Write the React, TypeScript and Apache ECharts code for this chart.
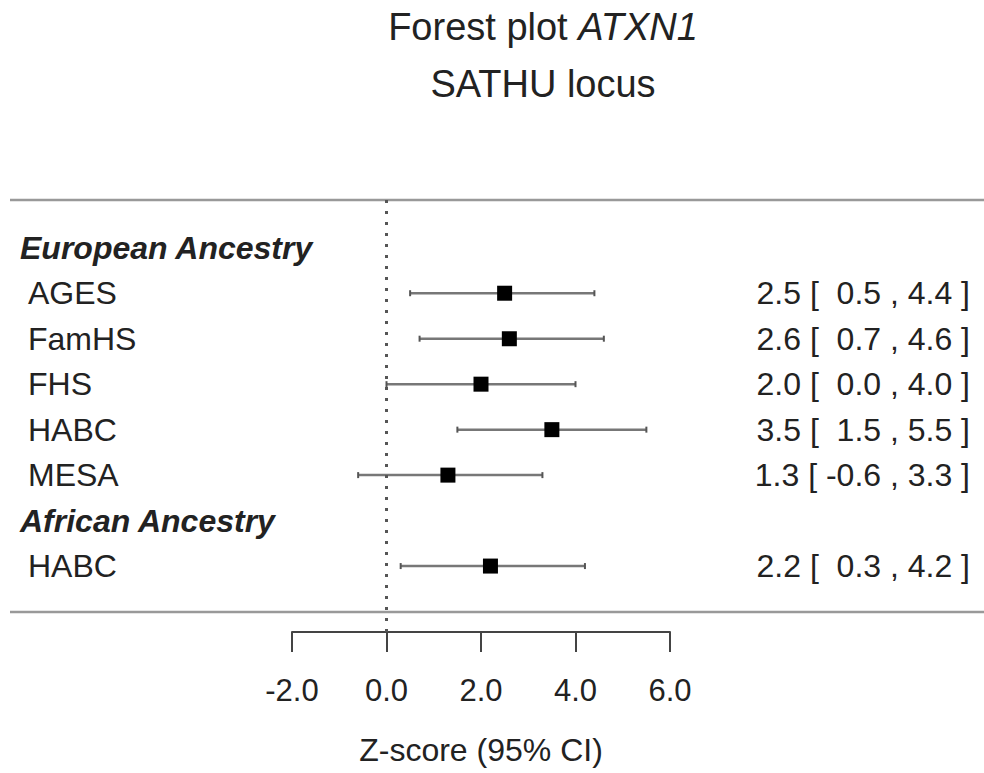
import React, { useEffect, useRef } from "react";
import * as echarts from "echarts";

const rowLabels = ["European Ancestry", "AGES", "FamHS", "FHS", "HABC", "MESA", "African Ancestry", "HABC"];
const isHeader = [true, false, false, false, false, false, true, false];
const estimates: (number | null)[] = [null, 2.5, 2.6, 2.0, 3.5, 1.3, null, 2.2];
const lowerCI: (number | null)[] = [null, 0.5, 0.7, 0.0, 1.5, -0.6, null, 0.3];
const upperCI: (number | null)[] = [null, 4.4, 4.6, 4.0, 5.5, 3.3, null, 4.2];
const xTicks = [-2, 0, 2, 4, 6];

const FONT = "'Liberation Sans', Arial, Helvetica, sans-serif";
const TXT = "#222";

function fmt(v: number) {
  return v.toFixed(1);
}

export default function App() {
  const ref = useRef<HTMLDivElement>(null);
  useEffect(() => {
    if (!ref.current) return;
    const chart = echarts.init(ref.current, undefined, { renderer: "svg" });

    const studyData: any[] = [];
    estimates.forEach((e, i) => {
      if (e !== null) studyData.push([i, e, lowerCI[i], upperCI[i]]);
    });
    const labelData = rowLabels.map((_, i) => [xTicks[0], i]);

    const option: any = {
      animation: false,
      backgroundColor: "#fff",
      title: {
        text: "Forest plot {i|ATXN1}",
        subtext: "SATHU locus",
        left: 538,
        top: 3,
        textAlign: "center",
        itemGap: 19,
        textStyle: {
          fontSize: 38,
          fontWeight: "normal",
          color: TXT,
          fontFamily: FONT,
          rich: {
            i: { fontSize: 38, fontStyle: "italic", color: TXT, fontFamily: FONT },
          },
        },
        subtextStyle: { fontSize: 38, color: TXT, fontFamily: FONT },
      },
      grid: { left: 292, right: 314, top: 200, bottom: 141, containLabel: false },
      xAxis: {
        type: "value",
        min: -2,
        max: 6,
        interval: 2,
        position: "bottom",
        splitLine: { show: false },
        axisLine: { show: true, onZero: false, lineStyle: { color: "#444", width: 2 } },
        axisTick: { show: true, length: 20, lineStyle: { color: "#444", width: 2 } },
        axisLabel: {
          fontSize: 31,
          color: TXT,
          fontFamily: FONT,
          margin: 43,
          formatter: (v: number) => fmt(v),
        },
        name: "Z-score (95% CI)",
        nameLocation: "middle",
        nameGap: 102,
        nameTextStyle: { fontSize: 32, color: TXT, fontFamily: FONT },
      },
      yAxis: {
        type: "value",
        inverse: true,
        min: -1.05,
        max: 8.45,
        show: false,
      },
      graphic: [
        { type: "line", shape: { x1: 10, y1: 200, x2: 984, y2: 200 }, style: { stroke: "#999", lineWidth: 2.5 } },
        { type: "line", shape: { x1: 10, y1: 612, x2: 984, y2: 612 }, style: { stroke: "#999", lineWidth: 2.5 } },
      ],
      series: [
        {
          type: "custom",
          name: "labels",
          silent: true,
          data: labelData,
          encode: { x: 0, y: 1 },
          renderItem: (params: any, api: any) => {
            const i = api.value(1);
            const y = api.coord([xTicks[0], i])[1];
            const header = isHeader[i];
            return {
              type: "text",
              style: {
                text: rowLabels[i],
                x: header ? 20 : 28,
                y,
                fill: TXT,
                fontSize: 32,
                fontFamily: FONT,
                fontWeight: header ? "bold" : "normal",
                fontStyle: header ? "italic" : "normal",
                align: "left",
                verticalAlign: "middle",
                textAlign: "left",
                textVerticalAlign: "middle",
              },
            };
          },
        },
        {
          type: "custom",
          name: "studies",
          silent: true,
          data: studyData,
          encode: { x: [1, 2, 3], y: 0 },
          markLine: {
            silent: true,
            symbol: "none",
            label: { show: false },
            lineStyle: { color: "#555", width: 3, type: [3, 8] },
            data: [{ xAxis: 0 }],
          },
          renderItem: (params: any, api: any) => {
            const row = api.value(0);
            const est = api.value(1);
            const lo = api.value(2);
            const hi = api.value(3);
            const pE = api.coord([est, row]);
            const pL = api.coord([lo, row]);
            const pH = api.coord([hi, row]);
            const s = 15;
            const cap = 3;
            const label = `${fmt(est)} [ ${lo >= 0 ? "\u00A0" : ""}${fmt(lo)} , ${fmt(hi)} ]`;
            return {
              type: "group",
              children: [
                {
                  type: "line",
                  shape: { x1: pL[0], y1: pL[1], x2: pH[0], y2: pH[1] },
                  style: { stroke: "#777", lineWidth: 2.5 },
                },
                {
                  type: "line",
                  shape: { x1: pL[0], y1: pL[1] - cap, x2: pL[0], y2: pL[1] + cap },
                  style: { stroke: "#555", lineWidth: 2 },
                },
                {
                  type: "line",
                  shape: { x1: pH[0], y1: pH[1] - cap, x2: pH[0], y2: pH[1] + cap },
                  style: { stroke: "#555", lineWidth: 2 },
                },
                {
                  type: "rect",
                  shape: { x: pE[0] - s / 2, y: pE[1] - s / 2, width: s, height: s },
                  style: { fill: "#000" },
                },
                {
                  type: "text",
                  style: {
                    text: label,
                    x: 970,
                    y: pE[1],
                    fill: TXT,
                    fontSize: 32,
                    fontFamily: FONT,
                    align: "right",
                    verticalAlign: "middle",
                    textAlign: "right",
                    textVerticalAlign: "middle",
                  },
                },
              ],
            };
          },
        },
      ],
    };
    chart.setOption(option);
    return () => chart.dispose();
  }, []);
  return <div ref={ref} style={{ position: "absolute", left: 0, top: 0, width: 984, height: 773 }} />;
}
